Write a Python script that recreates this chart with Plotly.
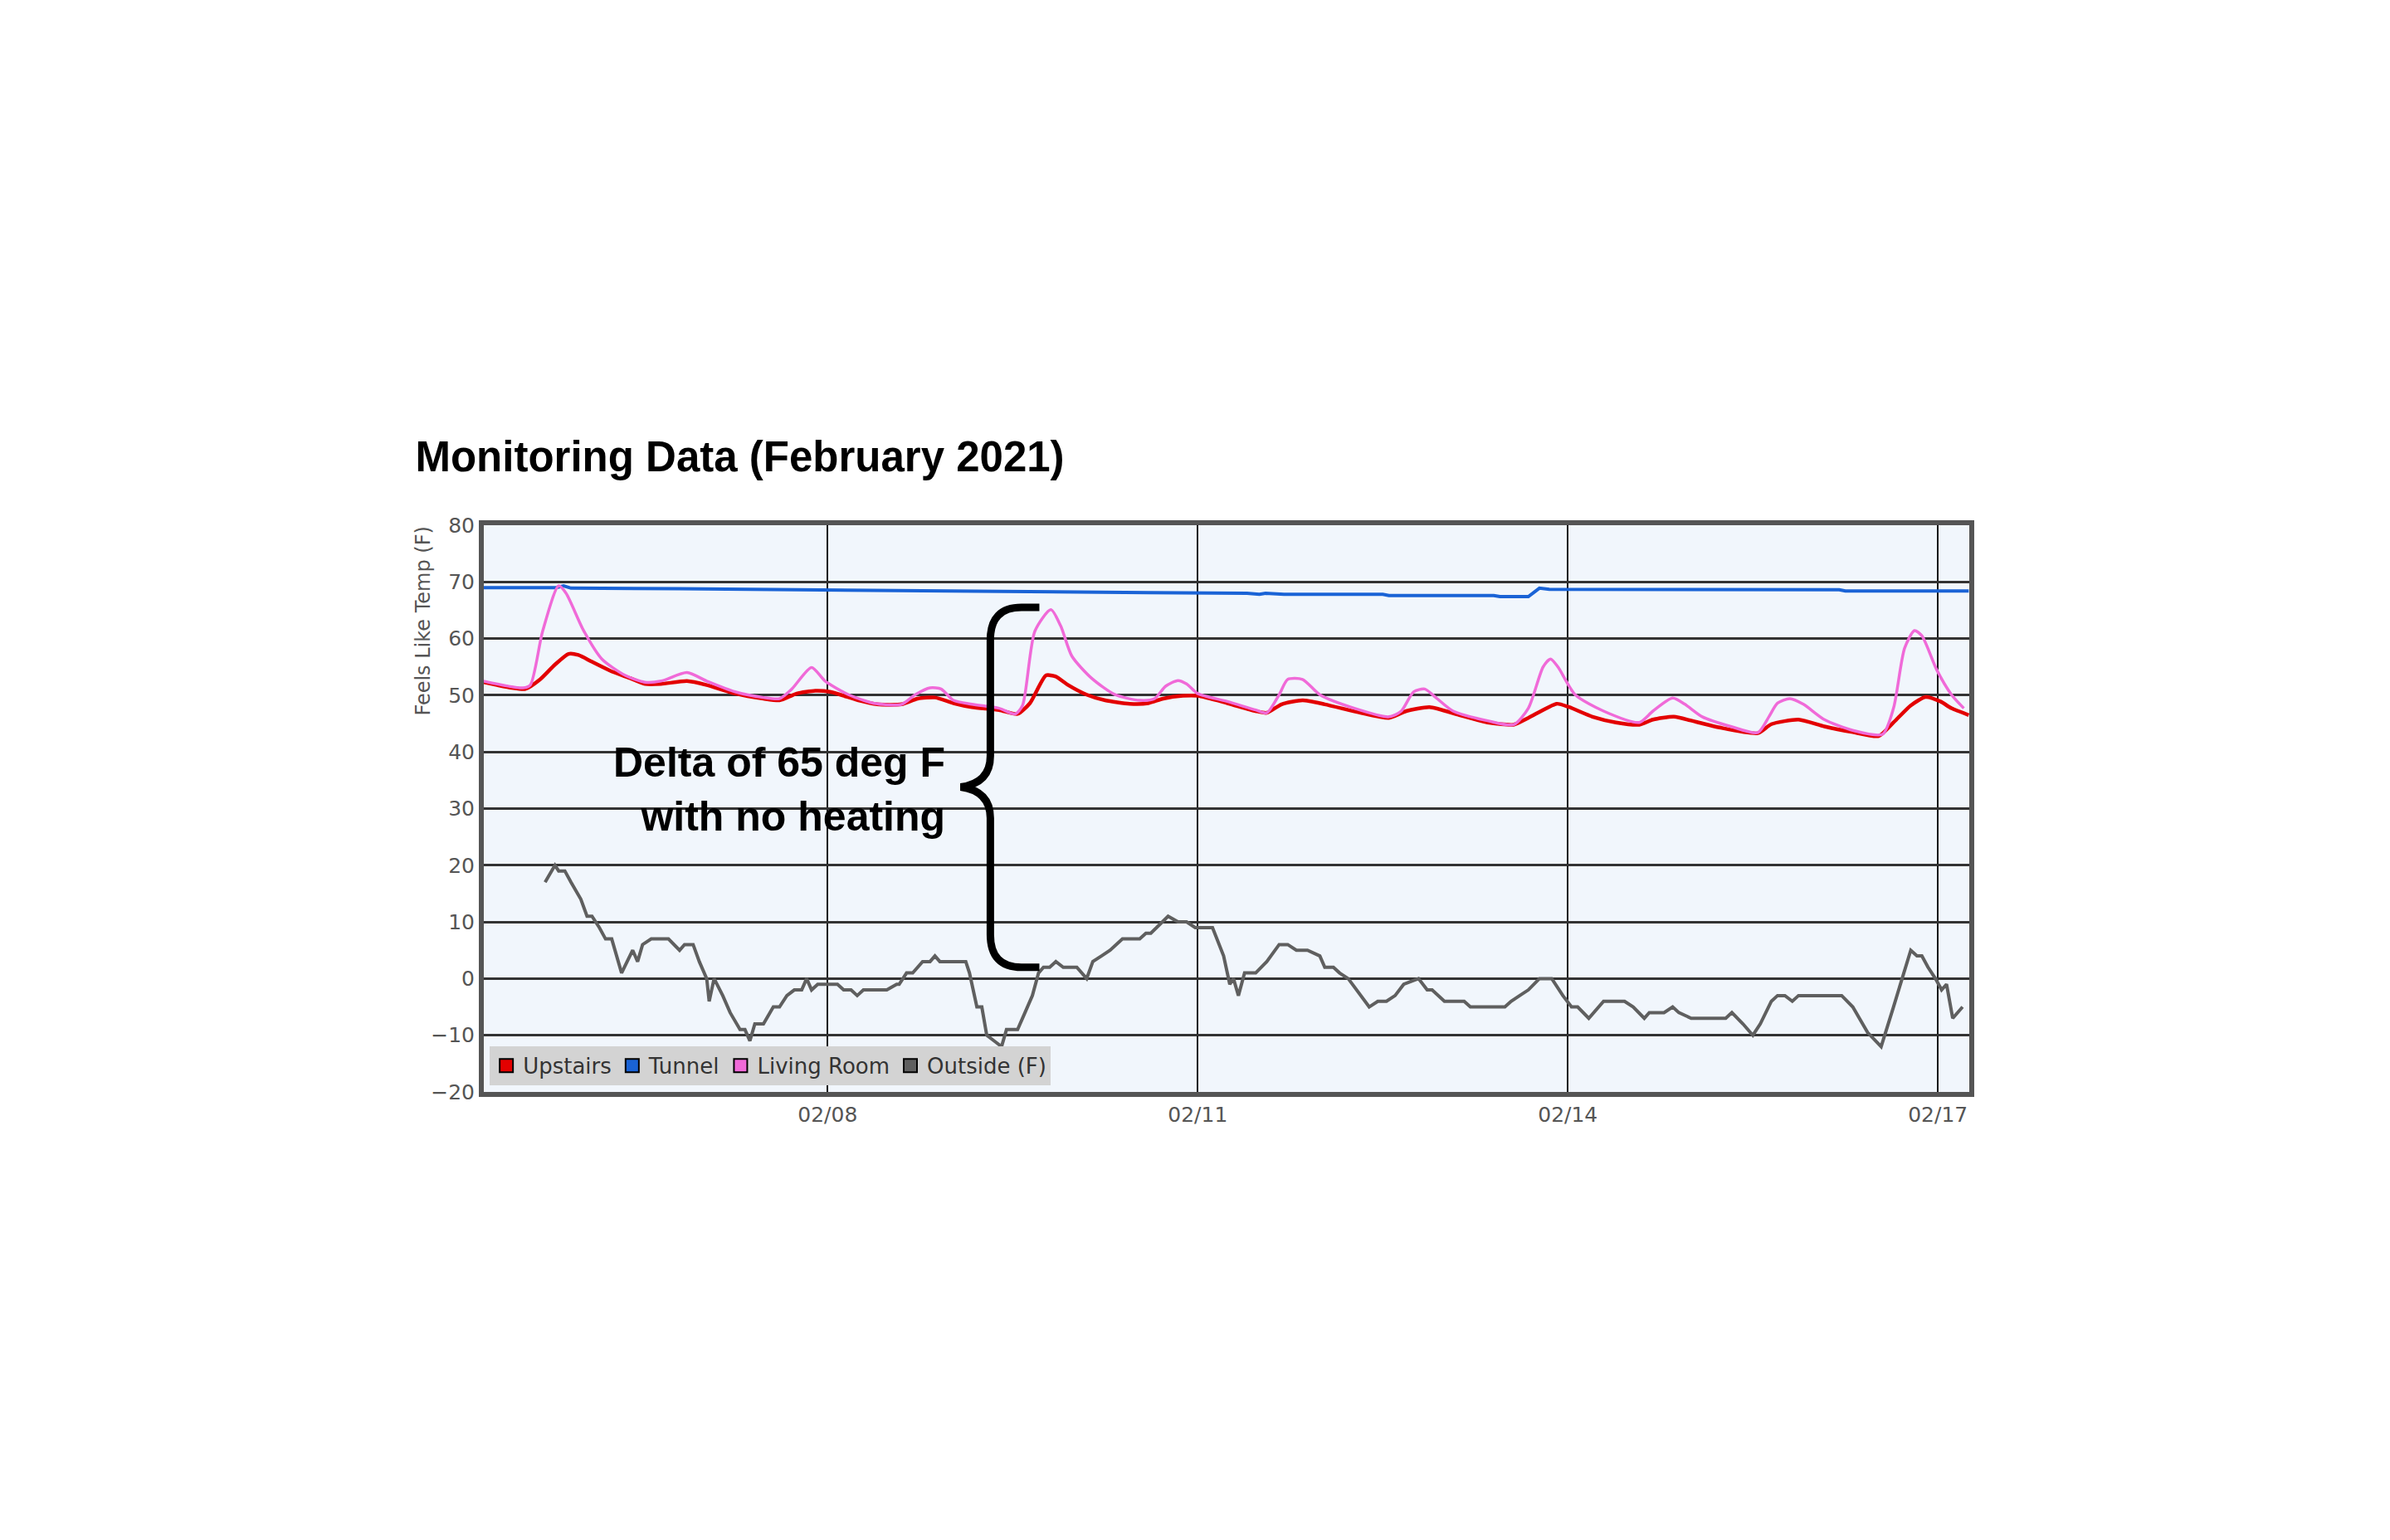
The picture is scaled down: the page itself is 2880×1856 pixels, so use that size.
import numpy as np
import pandas as pd
import plotly.graph_objects as go

# times are fractional day-of-month (February 2021)
upstairs_day = [5.21, 5.32, 5.44, 5.55, 5.67, 5.79, 5.90, 5.98, 6.09, 6.25, 6.40, 6.52, 6.65, 6.86,
                7.02, 7.25, 7.48, 7.61, 7.75, 7.90, 8.02, 8.25, 8.40, 8.60, 8.73, 8.87, 9.02, 9.17,
                9.39, 9.54, 9.64, 9.77, 9.85, 9.95, 10.10, 10.25, 10.45, 10.60, 10.72, 10.88, 11.00,
                11.24, 11.47, 11.56, 11.68, 11.85, 12.03, 12.32, 12.55, 12.69, 12.88, 13.12, 13.35,
                13.56, 13.68, 13.91, 14.01, 14.20, 14.39, 14.58, 14.69, 14.86, 15.04, 15.23, 15.54,
                15.65, 15.87, 16.08, 16.31, 16.52, 16.64, 16.78, 16.90, 17.02, 17.11, 17.25]
upstairs_temp = [52.3, 51.8, 51.3, 51.1, 52.8, 55.4, 57.3, 57.1, 55.9, 54.2, 53.0, 52.0, 52.0, 52.5,
                 51.8, 50.3, 49.4, 49.1, 50.3, 50.8, 50.6, 49.1, 48.4, 48.4, 49.4, 49.6, 48.6, 47.9,
                 47.4, 46.7, 48.6, 53.5, 53.3, 51.8, 50.1, 49.1, 48.5, 48.6, 49.4, 49.9, 49.9,
                 48.6, 47.2, 46.9, 48.4, 49.1, 48.4, 46.9, 46.0, 47.2, 47.9, 46.5, 45.2,
                 44.8, 46.0, 48.5, 47.9, 46.2, 45.2, 44.8, 45.7, 46.2, 45.3, 44.3, 43.3,
                 44.9, 45.7, 44.5, 43.5, 42.8, 45.2, 48.2, 49.7, 48.9, 47.7, 46.5]

tunnel_day = [5.21, 5.80, 5.86, 5.92, 6.80, 7.30, 7.40, 8.00, 8.90, 9.50, 10.10, 10.60, 11.40, 11.50,
              11.55, 11.70, 12.50, 12.55, 13.40, 13.45, 13.68, 13.77, 13.85, 16.20, 16.25, 17.25]
tunnel_temp = [69.0, 69.0, 69.3, 68.9, 68.8, 68.7, 68.6, 68.6, 68.4, 68.3, 68.2, 68.1, 68.0, 67.8,
               68.0, 67.8, 67.8, 67.6, 67.6, 67.4, 67.4, 68.9, 68.7, 68.6, 68.4, 68.4]

living_day = [5.21, 5.53, 5.59, 5.69, 5.82, 5.88, 6.02, 6.17, 6.36, 6.52, 6.65, 6.86, 7.02, 7.25,
              7.48, 7.61, 7.71, 7.87, 7.98, 8.17, 8.37, 8.60, 8.71, 8.83, 8.92, 9.02, 9.17, 9.39,
              9.52, 9.58, 9.68, 9.81, 9.89, 9.98, 10.14, 10.33, 10.53, 10.65, 10.74, 10.84, 10.91,
              11.00, 11.24, 11.47, 11.56, 11.66, 11.73, 11.85, 11.99, 12.27, 12.55, 12.65, 12.75,
              12.84, 12.93, 13.07, 13.35, 13.56, 13.68, 13.80, 13.86, 13.92, 14.06, 14.29, 14.58,
              14.69, 14.85, 14.95, 15.09, 15.32, 15.54, 15.63, 15.70, 15.80, 15.91, 16.08, 16.31,
              16.55, 16.64, 16.73, 16.81, 16.87, 16.99, 17.11, 17.21]
living_temp = [52.5, 51.3, 51.8, 61.3, 69.3, 68.0, 61.5, 56.4, 53.5, 52.3, 52.5, 54.0, 52.5, 50.6,
               49.6, 49.4, 51.1, 54.9, 52.5, 50.1, 48.6, 48.4, 50.1, 51.3, 51.1, 49.1, 48.4, 47.7,
               46.7, 48.2, 61.3, 65.1, 62.2, 56.9, 53.0, 50.1, 49.1, 49.4, 51.6, 52.6, 52.0,
               50.3, 48.9, 47.4, 46.9, 50.1, 52.8, 52.8, 50.1, 47.7, 46.2, 47.2, 50.6,
               51.1, 49.6, 47.2, 45.5, 44.8, 47.7, 55.0, 56.4, 55.0, 50.1, 47.2, 45.2,
               47.2, 49.5, 48.4, 46.2, 44.5, 43.4, 46.2, 48.6, 49.4, 48.4, 45.7, 43.8,
               43.1, 47.7, 58.3, 61.4, 60.5, 54.5, 50.1, 47.7]

outside_day = [5.71, 5.79, 5.82, 5.87, 5.92, 6.00, 6.05, 6.09, 6.15, 6.20, 6.25, 6.33, 6.42, 6.46,
               6.50, 6.57, 6.71, 6.80, 6.84, 6.91, 6.96, 7.02, 7.04, 7.08, 7.15, 7.21, 7.29, 7.33,
               7.37, 7.41, 7.48, 7.56, 7.61, 7.67, 7.73, 7.79, 7.83, 7.87, 7.92, 7.98, 8.08, 8.13,
               8.19, 8.24, 8.29, 8.48, 8.56, 8.58, 8.64, 8.69, 8.77, 8.83, 8.87, 8.91, 9.12, 9.15,
               9.21, 9.25, 9.29, 9.35, 9.41, 9.45, 9.54, 9.60, 9.66, 9.71, 9.75, 9.80, 9.85, 9.91,
               10.02, 10.10, 10.15, 10.22, 10.29, 10.39, 10.53, 10.58, 10.62, 10.76, 10.84, 10.91,
               10.98, 11.12, 11.21, 11.26, 11.29, 11.33, 11.38, 11.47, 11.56, 11.66, 11.73, 11.80,
               11.89, 11.99, 12.03, 12.10, 12.15, 12.22, 12.29, 12.39, 12.46, 12.53, 12.60, 12.67,
               12.79, 12.86, 12.90, 13.00, 13.16, 13.21, 13.49, 13.54, 13.61, 13.68, 13.77, 13.87,
               13.96, 14.03, 14.08, 14.17, 14.29, 14.46, 14.53, 14.62, 14.66, 14.78, 14.85, 14.90,
               15.00, 15.28, 15.33, 15.42, 15.50, 15.56, 15.65, 15.70, 15.76, 15.82, 15.87, 16.22,
               16.31, 16.43, 16.54, 16.57, 16.64, 16.71, 16.78, 16.83, 16.87, 16.92, 16.98, 17.03,
               17.07, 17.12, 17.20]
outside_temp = [17, 20, 19, 19, 17, 14, 11, 11, 9, 7, 7, 1, 5, 3,
                6, 7, 7, 5, 6, 6, 3, 0, -4, 0, -3, -6, -9, -9,
                -11, -8, -8, -5, -5, -3, -2, -2, 0, -2, -1, -1, -1, -2,
                -2, -3, -2, -2, -1, -1, 1, 1, 3, 3, 4, 3, 3, 1,
                -5, -5, -10, -11, -12, -9, -9, -6, -3, 1, 2, 2, 3, 2,
                2, 0, 3, 4, 5, 7, 7, 8, 8, 11, 10, 10,
                9, 9, 4, -1, 0, -3, 1, 1, 3, 6, 6, 5,
                5, 4, 2, 2, 1, 0, -2, -5, -4, -4, -3, -1,
                0, -2, -2, -4, -4, -5, -5, -4, -3, -2, 0, 0,
                -3, -5, -5, -7, -4, -4, -5, -7, -6, -6, -5, -6,
                -7, -7, -6, -8, -10, -8, -4, -3, -3, -4, -3, -3,
                -5, -9.5, -12, -10, -5, 0, 5, 4, 4, 2, 0, -2,
                -1, -7, -5]

series_names = ["Upstairs", "Tunnel", "Living Room", "Outside (F)"]
series_colors = ["#e30000", "#1a63d6", "#f06ad8", "#5f5f5f"]


def to_time(days):
    return pd.Timestamp("2021-02-01") + pd.to_timedelta(np.array(days) - 1, unit="D")


fig = go.Figure()

fig.add_trace(go.Scatter(x=to_time(tunnel_day), y=tunnel_temp, mode="lines",
                         line=dict(color=series_colors[1], width=4), showlegend=False))
fig.add_trace(go.Scatter(x=to_time(upstairs_day), y=upstairs_temp, mode="lines",
                         line=dict(color=series_colors[0], width=4.5, shape="spline", smoothing=0.6),
                         showlegend=False))
fig.add_trace(go.Scatter(x=to_time(living_day), y=living_temp, mode="lines",
                         line=dict(color=series_colors[2], width=3.5, shape="spline", smoothing=0.7),
                         showlegend=False))
fig.add_trace(go.Scatter(x=to_time(outside_day), y=outside_temp, mode="lines",
                         line=dict(color=series_colors[3], width=4), showlegend=False))

# legend entries drawn as boxes
for name, col in zip(series_names, series_colors):
    fig.add_trace(go.Scatter(x=[None], y=[None], mode="markers", name=name,
                             marker=dict(symbol="square", size=29, color=col,
                                         line=dict(color="black", width=2))))

# curly brace next to the annotation
brace = ("M 0.374,0.855 L 0.362,0.855 Q 0.341,0.855 0.341,0.798 "
         "L 0.341,0.593 Q 0.341,0.545 0.321,0.538 Q 0.341,0.531 0.341,0.483 "
         "L 0.341,0.278 Q 0.341,0.22 0.362,0.22 L 0.374,0.22")
fig.add_shape(type="path", path=brace, xref="paper", yref="paper",
              line=dict(color="black", width=9))

fig.add_annotation(text="<b>Delta of 65 deg F<br>with no heating</b>",
                   xref="paper", yref="paper", x=0.312, y=0.533,
                   xanchor="right", yanchor="middle", align="right", showarrow=False,
                   font=dict(family="Liberation Sans", size=50, color="black"))

# axis title sits at the top of the y axis
fig.add_annotation(text="Feels Like Temp (F)", xref="paper", yref="paper",
                   x=-0.041, y=1.0, xanchor="center", yanchor="top", textangle=-90,
                   showarrow=False, font=dict(family="DejaVu Sans", size=24, color="#555"))

fig.update_layout(
    width=2880, height=1856,
    paper_bgcolor="white", plot_bgcolor="#f1f6fc",
    margin=dict(l=575, r=515, t=625, b=548),
    title=dict(text="<b>Monitoring Data (February 2021)</b>", x=0.171, xref="container",
               xanchor="left", y=0.708, yanchor="middle",
               font=dict(family="Liberation Sans", size=51, color="black")),
    font=dict(family="DejaVu Sans", color="#555"),
    legend=dict(orientation="h", x=0.004, y=0.012, xanchor="left", yanchor="bottom",
                bgcolor="#d3d3d3", font=dict(size=26, color="#333"),
                itemwidth=30, tracegroupgap=0),
)

fig.update_xaxes(type="date", range=["2021-02-05 05:07", "2021-02-17 06:06"],
                 tick0="2021-02-08", dtick=3 * 86400000, tickformat="%m/%d",
                 showgrid=True, gridcolor="#111", gridwidth=2,
                 showline=True, linecolor="#555", linewidth=6, mirror=True,
                 ticks="", tickfont=dict(size=25, color="#555"), zeroline=False)
fig.update_yaxes(range=[-20, 80], dtick=10, showgrid=True, gridcolor="#333", gridwidth=3,
                 showline=True, linecolor="#555", linewidth=6, mirror=True,
                 ticks="", tickfont=dict(size=25, color="#555"), zeroline=False)

fig.write_html("out.html")
